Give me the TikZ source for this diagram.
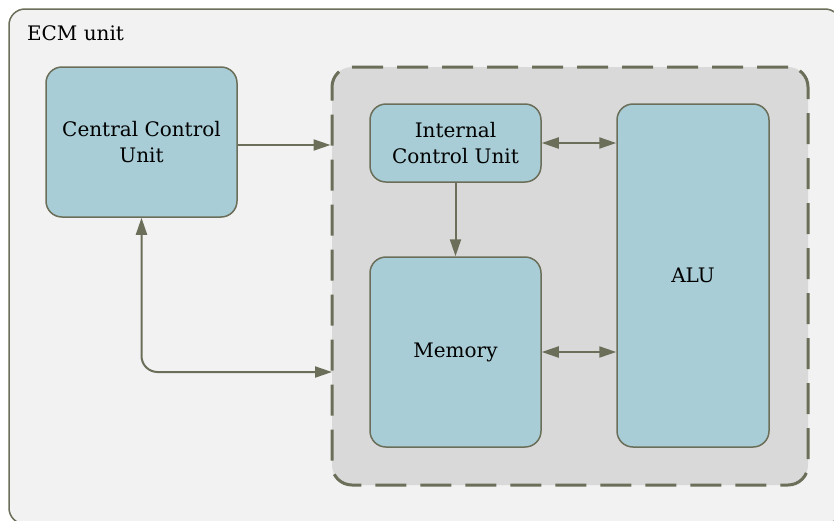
\documentclass[tikz,border=0pt]{standalone}
\usepackage{fontspec}
\setmainfont{DejaVu Serif}
\usetikzlibrary{arrows.meta}
\definecolor{edgegray}{HTML}{6B6E58}
\definecolor{boxblue}{HTML}{A8CDD6}
\definecolor{outerfill}{HTML}{F2F2F2}
\definecolor{innerfill}{HTML}{D9D9D9}
\begin{document}
\begin{tikzpicture}[x=0.5pt,y=-0.5pt,
    font=\fontsize{10pt}{12.8pt}\selectfont,
    unit/.style={draw=edgegray,fill=boxblue,line width=0.75pt,rounded corners=8pt,
      align=center,inner sep=0pt},
    link/.style={draw=edgegray,line width=1pt,
      arrows={-Triangle[length=8.5pt,width=5.5pt]}},
    dlink/.style={link,arrows={Triangle[length=8.5pt,width=5.5pt]-Triangle[length=8.5pt,width=5.5pt]}}]
  \useasboundingbox (0,0) rectangle (834,520);
  % outer frame
  \node[draw=edgegray,fill=outerfill,line width=0.75pt,rounded corners=8pt,
    minimum width=416pt,minimum height=257.5pt,inner sep=0pt] (ecm) at (425,266.5) {};
  \node[anchor=base west] (ecmlabel) at (20,40) {ECM unit};
  % core block
  \node[draw=edgegray,fill=innerfill,line width=1.5pt,rounded corners=10pt,
    dash pattern=on 15.5pt off 7pt,minimum width=238pt,minimum height=209pt,
    inner sep=0pt] (core) at (570,276) {};
  \node[unit,minimum width=95.5pt,minimum height=75pt] (ccu) at (141.5,142) {Central Control\\Unit};
  \node[unit,minimum width=85.5pt,minimum height=39pt] (icu) at (455.5,143) {Internal\\Control Unit};
  \node[unit,minimum width=85.5pt,minimum height=95pt] (mem) at (455.5,352) {Memory};
  \node[unit,minimum width=76pt,minimum height=171.5pt] (alu) at (693,275.5) {ALU};
  \coordinate (back) at (332,372);
  \begin{scope}
    \draw[link] ([yshift=-1.5pt]ccu.east) -- ([yshift=-1.5pt]ccu.east -| core.west);
    \draw[dlink] (icu.east) -- (icu.east -| alu.west);
    \draw[link] (icu) -- (mem);
    \draw[dlink] (mem.east) -- (mem.east -| alu.west);
    \draw[dlink,rounded corners=8pt] (ccu.south) |- (back);
  \end{scope}
\end{tikzpicture}
\end{document}
